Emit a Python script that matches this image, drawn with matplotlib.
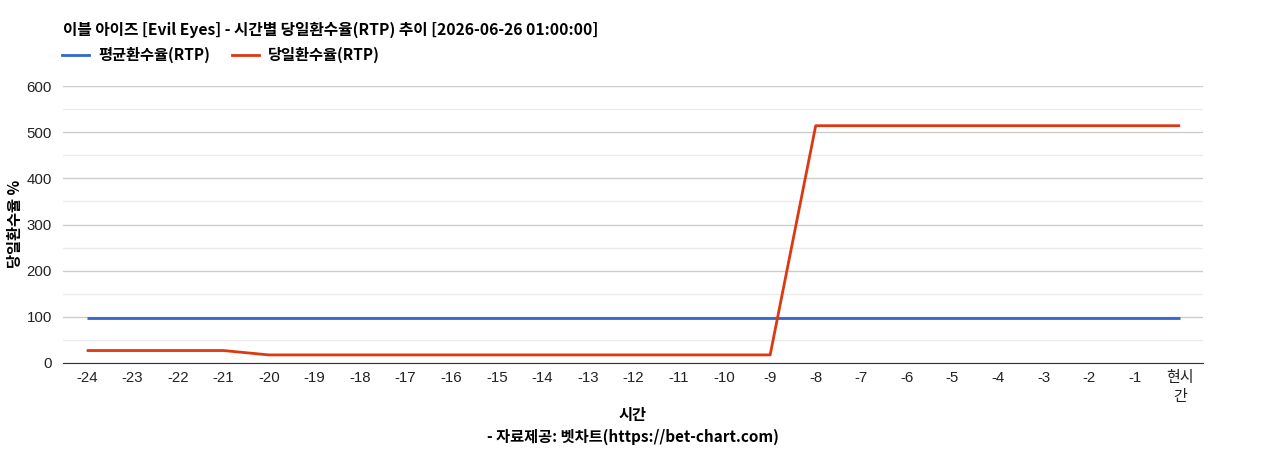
import matplotlib
matplotlib.use("Agg")
import matplotlib.pyplot as plt
from matplotlib.lines import Line2D

plt.rcParams['font.family'] = ['Liberation Sans', 'Noto Sans CJK KR', 'DejaVu Sans']

categories = ['-24', '-23', '-22', '-21', '-20', '-19', '-18', '-17', '-16', '-15', '-14', '-13',
              '-12', '-11', '-10', '-9', '-8', '-7', '-6', '-5', '-4', '-3', '-2', '-1', '현시\n간']
avg_rtp = [96.5] * 25
daily_rtp = [27, 27, 27, 27, 17.5, 17.5, 17.5, 17.5, 17.5, 17.5, 17.5, 17.5,
             17.5, 17.5, 17.5, 17.5, 514, 514, 514, 514, 514, 514, 514, 514, 514]
title = '이블 아이즈 [Evil Eyes] - 시간별 당일환수율(RTP) 추이 [2026-06-26 01:00:00]'

kfam = ['Noto Sans CJK KR', 'DejaVu Sans']

fig = plt.figure(figsize=(12.68, 4.5), dpi=100)
ax = fig.add_axes([63/1268, 87/450, 1140/1268, 277/450])

x = list(range(len(categories)))
ax.plot(x, avg_rtp, color='#3366cc', lw=2, solid_capstyle='butt')
ax.plot(x, daily_rtp, color='#dc3912', lw=2, solid_capstyle='butt')

ax.set_xlim(-0.52, 24.5)
ax.set_ylim(0, 600)
ax.set_yticks([0, 100, 200, 300, 400, 500, 600])
ax.set_yticks([50, 150, 250, 350, 450, 550], minor=True)
ax.grid(axis='y', which='major', color='#cccccc', lw=1)
ax.grid(axis='y', which='minor', color='#ebebeb', lw=1)
ax.set_axisbelow(True)
ax.set_xticks(x)
ax.set_xticklabels(categories, fontsize=10.8, color='#222222', linespacing=1.45)
ax.tick_params(axis='y', which='both', length=0, labelsize=10.8, labelcolor='#222222', pad=8)
ax.tick_params(axis='x', length=0, pad=6)
for s in ['top', 'right', 'left']:
    ax.spines[s].set_visible(False)
ax.spines['bottom'].set_color('#333333')

fig.text(15/1268, 1 - 224/450, '당일환수율 %', rotation=90, ha='center', va='center',
         fontsize=11, fontweight='bold', family=kfam)
fig.text(633/1268, 1 - 415/450, '시간', ha='center', va='center',
         fontsize=11, fontweight='bold', family=kfam)
fig.text(633/1268, 1 - 437/450, '- 자료제공: 벳차트(https://bet-chart.com)', ha='center', va='center',
         fontsize=11, fontweight='bold', family=kfam)
fig.text(63/1268, 1 - 30/450, title, ha='left', va='center',
         fontsize=11.3, fontweight='bold', family=kfam)

handles = [Line2D([], [], color='#3366cc', lw=2), Line2D([], [], color='#dc3912', lw=2)]
leg = fig.legend(handles, ['평균환수율(RTP)', '당일환수율(RTP)'], loc='center left',
                 bbox_to_anchor=(48/1268, 1 - 55/450), ncol=2, frameon=False,
                 prop={'family': kfam, 'weight': 'bold', 'size': 11},
                 handlelength=1.8, handletextpad=0.6, columnspacing=1.4)

fig.savefig('out.png', dpi=100, facecolor='white')
